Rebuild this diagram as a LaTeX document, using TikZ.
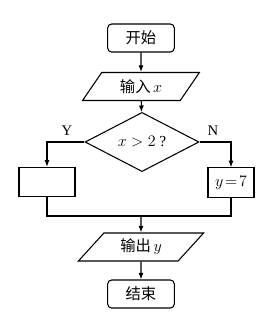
\documentclass[tikz,border=0pt]{standalone}
\usepackage{fontspec}
\setmainfont{Liberation Serif}
\newfontfamily\cjk{Noto Sans CJK SC}
\usetikzlibrary{arrows.meta,shapes.geometric}
\tikzset{
  >={Latex[length=5pt,width=3.8pt]},
  base/.style={draw,line width=0.8pt,inner sep=1pt,font=\fontsize{11.5}{13}\selectfont},
  box/.style={base,minimum width=42pt,minimum height=22pt},
  rbox/.style={base,rounded corners=3pt,minimum width=50pt,minimum height=21pt},
  iobox/.style={base,trapezium,trapezium left angle=#1,trapezium right angle=180-#1,trapezium stretches=true,minimum height=21pt},
  dbox/.style={base,diamond,minimum width=85.5pt,minimum height=39.75pt,inner sep=0pt},
  arr/.style={->,line width=0.8pt},
  ln/.style={line width=0.8pt},
  lab/.style={font=\fontsize{11}{13}\selectfont,inner sep=0pt},
}

\begin{document}
\begin{tikzpicture}[x=0.75pt,y=-0.75pt]
\useasboundingbox (0,0) rectangle (270,315);
\node[rbox] (st) at (141,38) {\cjk 开始};
\node[iobox=57,minimum width=87.75pt] (in) at (141,86.5) {\cjk 输入\,\normalfont$x$};
\node[dbox] (dec) at (142,142) {$x>2$ ?};
\node[box] (lb) at (47,182) {};
\node[box,minimum width=34.5pt] (rb) at (231,182.5) {$y\!=\!7$};
\coordinate (m) at (141,216);
\node[iobox=51,minimum width=94pt] (out) at (141,247) {\cjk 输出\,\normalfont$y$};
\node[rbox] (en) at (141,294) {\cjk 结束};
\node[lab] (yes) at (67,131) {Y};
\node[lab] (no) at (213,131) {N};

\draw[arr] (st) -- (in);
\draw[arr] (in) -- (dec);
\draw[arr] (dec.west) -| (lb.north);
\draw[arr] (dec.east) -| (rb.north);
\draw[ln] (lb.south) |- (m) -| (rb.south);
\draw[arr] (m) -- (out);
\draw[arr] (out) -- (en);
\end{tikzpicture}
\end{document}
